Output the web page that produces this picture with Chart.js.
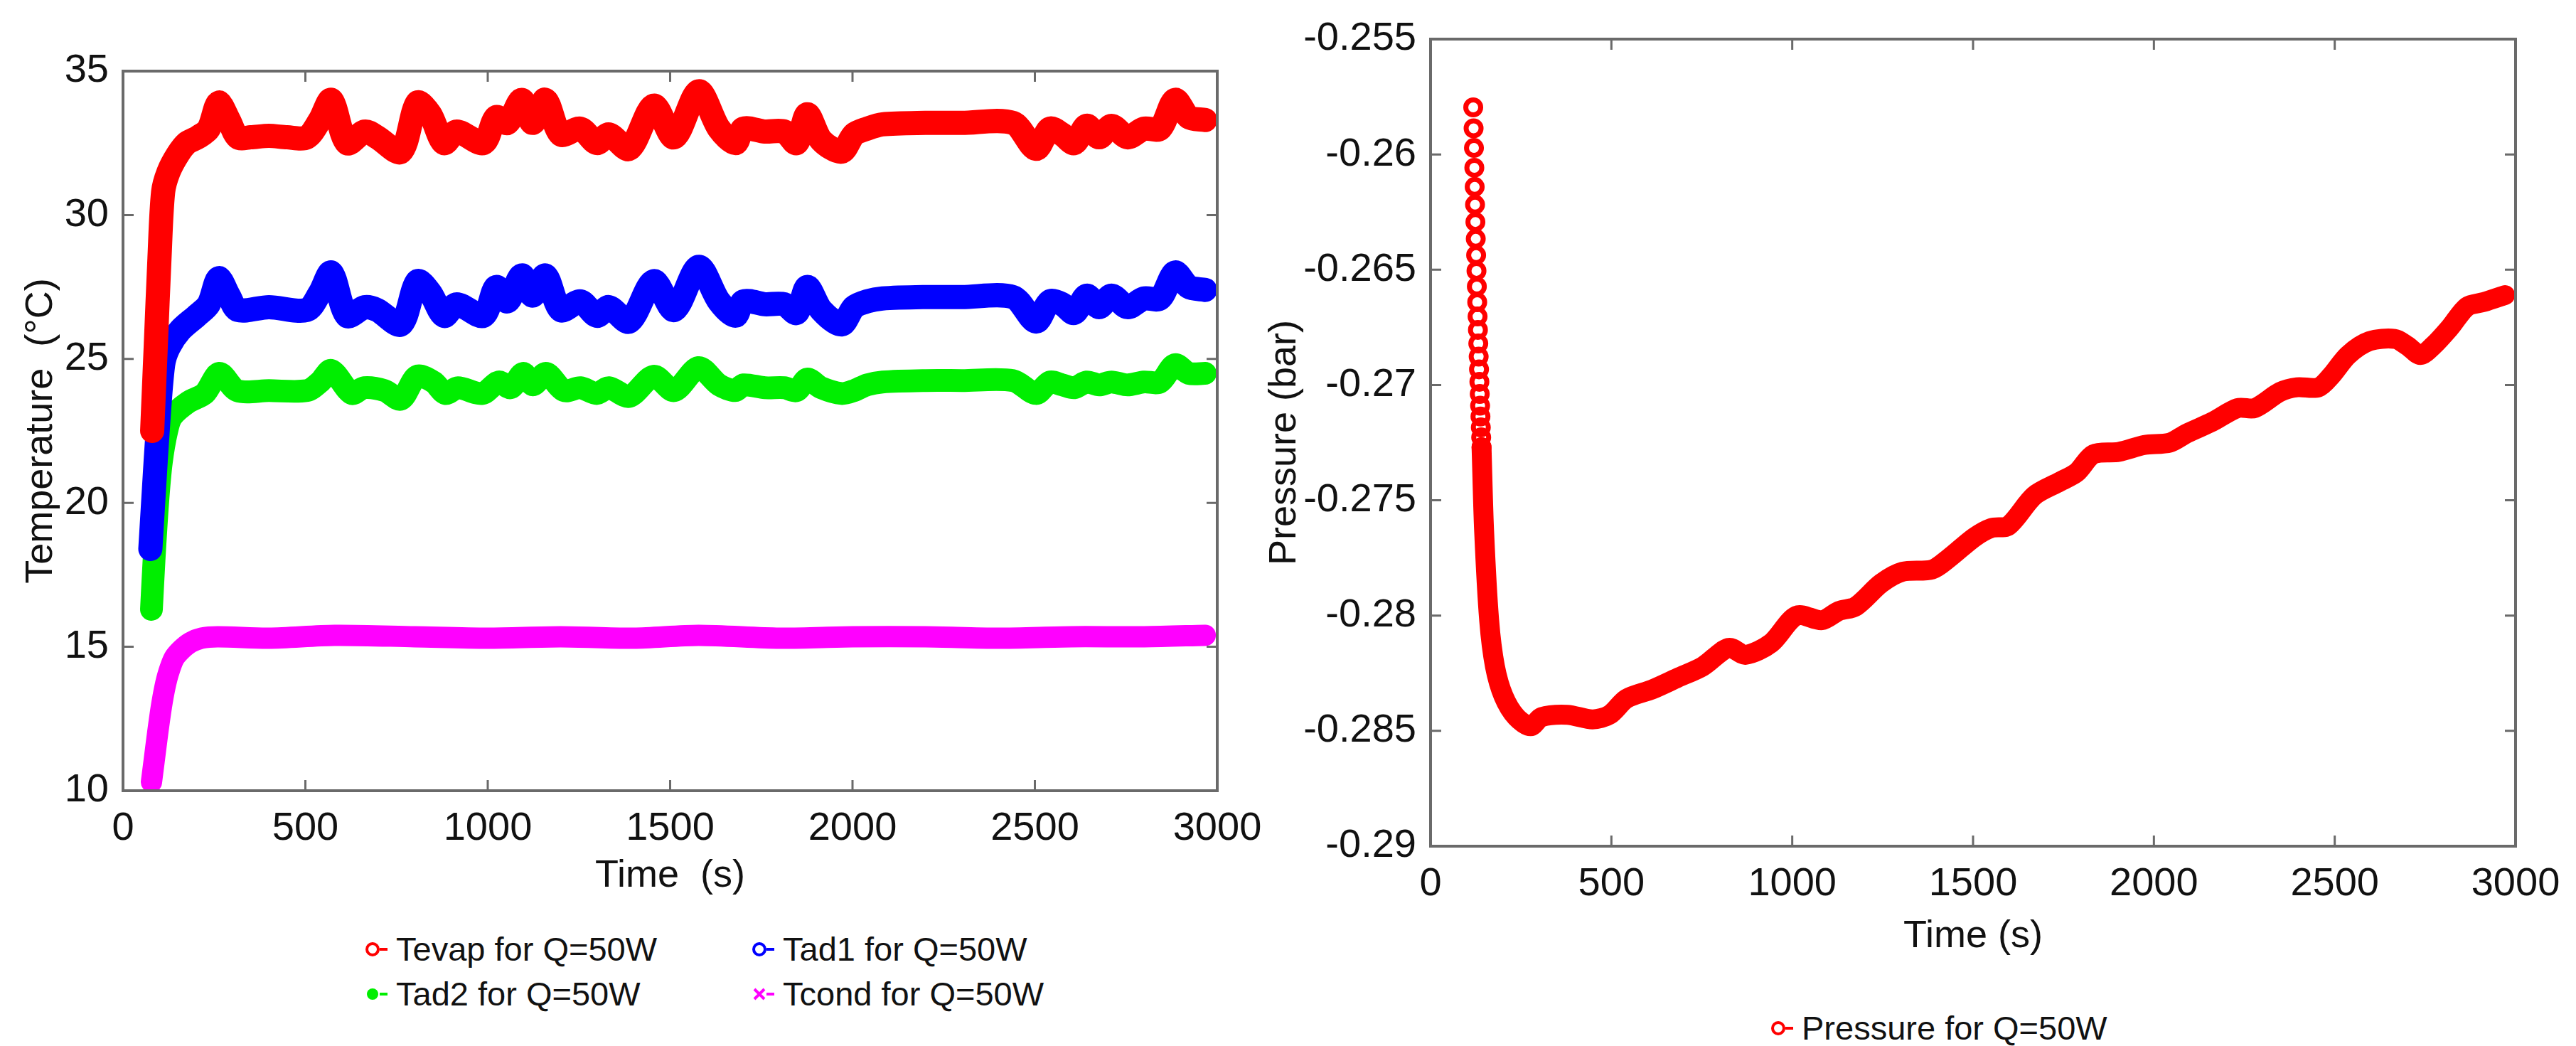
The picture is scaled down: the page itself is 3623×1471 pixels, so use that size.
<!DOCTYPE html>
<html>
<head>
<meta charset="utf-8">
<script src="https://cdn.jsdelivr.net/npm/chart.js@4.4.1/dist/chart.umd.min.js"></script>
<style>
    html, body { margin: 0; padding: 0; background: #fff; }
    body { width: 3623px; height: 1471px; position: relative; overflow: hidden; font-family: "Liberation Sans", Arial, sans-serif; }
    .panel { position: absolute; }
    .legend-item { position: absolute; display: flex; align-items: center; transform: translateY(-50%); font-size: 47px; line-height: 50px; color: #111; white-space: nowrap; }
    .legend-item svg { margin-right: 8px; }
</style>
</head>
<body>
<div class="panel" style="left:0;top:0;width:1800px;height:1300px;"><canvas id="tempChart"></canvas></div>
<div class="panel" style="left:1760px;top:0;width:1863px;height:1380px;"><canvas id="pressChart"></canvas></div>
<div id="tempLegend"></div>
<div id="pressLegend"></div>
<script>
// ---- data ----
const timeTicks = [0, 500, 1000, 1500, 2000, 2500, 3000];
const tempTicks = [10, 15, 20, 25, 30, 35];
const pressTicks = [-0.29, -0.285, -0.28, -0.275, -0.27, -0.265, -0.26, -0.255];

const tevapTime = [80, 90, 100, 110, 125, 150, 175, 205, 235, 262, 290, 315, 350, 400, 450, 504, 540, 571, 614, 663, 697, 762, 807, 842, 880, 915, 988, 1023, 1054, 1093, 1123, 1158, 1200, 1254, 1299, 1332, 1388, 1455, 1511, 1578, 1634, 1679, 1701, 1760, 1813, 1847, 1876, 1914, 1970, 2004, 2040, 2082, 2200, 2300, 2440, 2503, 2541, 2575, 2608, 2642, 2676, 2710, 2754, 2799, 2843, 2884, 2922, 2967];
const tevap = [22.5, 25.5, 28.5, 30.8, 31.5, 32.1, 32.5, 32.7, 33.0, 33.9, 33.3, 32.7, 32.7, 32.75, 32.7, 32.7, 33.3, 34.0, 32.5, 32.9, 32.7, 32.2, 33.9, 33.5, 32.5, 32.9, 32.5, 33.4, 33.2, 34.0, 33.2, 34.0, 32.8, 33.0, 32.5, 32.8, 32.3, 33.8, 32.7, 34.3, 33.0, 32.5, 33.0, 32.9, 32.9, 32.5, 33.5, 32.6, 32.2, 32.8, 33.0, 33.15, 33.2, 33.2, 33.2, 32.3, 33.0, 32.8, 32.5, 33.1, 32.7, 33.1, 32.7, 33.0, 33.0, 34.0, 33.4, 33.3];

const tad1Time = [75, 85, 95, 110, 125, 157, 202, 235, 262, 290, 315, 400, 504, 540, 571, 614, 663, 697, 762, 807, 842, 880, 915, 988, 1023, 1054, 1093, 1123, 1158, 1200, 1254, 1299, 1332, 1388, 1455, 1511, 1578, 1634, 1679, 1701, 1760, 1813, 1847, 1876, 1914, 1970, 2004, 2040, 2082, 2200, 2300, 2440, 2503, 2541, 2575, 2608, 2642, 2676, 2710, 2754, 2799, 2843, 2884, 2922, 2967];
const tad1 = [18.4, 20.5, 22.5, 24.8, 25.4, 26.0, 26.5, 26.9, 27.8, 27.2, 26.7, 26.8, 26.7, 27.3, 28.0, 26.5, 26.8, 26.7, 26.2, 27.7, 27.3, 26.5, 26.9, 26.5, 27.5, 27.0, 27.9, 27.2, 27.9, 26.7, 27.0, 26.5, 26.8, 26.3, 27.7, 26.7, 28.2, 27.0, 26.5, 27.0, 26.9, 26.9, 26.6, 27.5, 26.7, 26.2, 26.8, 27.0, 27.1, 27.15, 27.15, 27.15, 26.3, 27.0, 26.9, 26.6, 27.2, 26.8, 27.2, 26.8, 27.1, 27.1, 28.0, 27.5, 27.4];

const tad2Time = [78, 85, 95, 105, 120, 134, 179, 224, 264, 313, 400, 504, 540, 571, 627, 661, 717, 762, 806, 851, 884, 918, 985, 1030, 1063, 1097, 1124, 1160, 1209, 1254, 1299, 1332, 1388, 1455, 1511, 1578, 1634, 1679, 1701, 1760, 1813, 1847, 1876, 1914, 1970, 2004, 2040, 2082, 2200, 2300, 2440, 2503, 2541, 2575, 2608, 2642, 2676, 2710, 2754, 2799, 2843, 2884, 2922, 2967];
const tad2 = [16.3, 18.0, 20.0, 21.4, 22.5, 23.0, 23.5, 23.8, 24.5, 23.9, 23.9, 23.9, 24.2, 24.6, 23.8, 24.0, 23.9, 23.6, 24.4, 24.2, 23.8, 24.0, 23.8, 24.2, 24.0, 24.5, 24.1, 24.5, 23.9, 24.0, 23.8, 24.0, 23.7, 24.4, 23.9, 24.7, 24.1, 23.9, 24.1, 24.0, 24.0, 23.9, 24.3, 24.0, 23.8, 23.9, 24.1, 24.2, 24.25, 24.25, 24.25, 23.8, 24.2, 24.1, 24.0, 24.2, 24.1, 24.2, 24.1, 24.2, 24.2, 24.8, 24.5, 24.5];

const tcondTime = [78, 85, 95, 105, 115, 125, 140, 160, 185, 215, 260, 400, 580, 800, 1000, 1200, 1400, 1578, 1800, 2000, 2200, 2400, 2600, 2800, 2967];
const tcond = [10.3, 11.0, 12.0, 12.9, 13.6, 14.1, 14.6, 14.9, 15.15, 15.3, 15.35, 15.3, 15.4, 15.35, 15.3, 15.35, 15.3, 15.4, 15.3, 15.35, 15.35, 15.3, 15.35, 15.35, 15.4];

// first 24 samples are the separate open circles at the top of the drop
const pressTime = [118, 119, 120, 121, 122, 123, 124, 125, 126, 127, 128, 129, 130, 131, 132, 133, 134, 135, 136, 137, 138, 139, 140, 141, 148, 162, 178, 202, 237, 277, 307, 378, 448, 495, 542, 613, 683, 753, 824, 871, 941, 1012, 1082, 1129, 1176, 1246, 1305, 1387, 1434, 1504, 1551, 1598, 1669, 1739, 1786, 1833, 1903, 1974, 2044, 2091, 2161, 2232, 2279, 2349, 2396, 2455, 2490, 2537, 2596, 2666, 2701, 2737, 2772, 2819, 2866, 2913, 2971];
const pressure = [-0.25796, -0.25887, -0.25972, -0.26058, -0.26141, -0.26218, -0.26293, -0.26366, -0.26437, -0.26505, -0.26573, -0.26641, -0.26703, -0.26761, -0.2682, -0.26877, -0.26932, -0.26986, -0.27039, -0.2709, -0.27137, -0.27184, -0.27227, -0.2727, -0.2763, -0.2802, -0.2822, -0.2835, -0.2844, -0.2848, -0.2844, -0.2843, -0.2845, -0.2843, -0.2836, -0.2832, -0.2827, -0.2822, -0.2814, -0.2817, -0.2812, -0.28, -0.2802, -0.2798, -0.2796, -0.2786, -0.2781, -0.278, -0.2775, -0.2766, -0.2762, -0.2761, -0.2748, -0.2742, -0.2738, -0.273, -0.2729, -0.2726, -0.2725, -0.2721, -0.2716, -0.271, -0.271, -0.2703, -0.2701, -0.2701, -0.2696, -0.2687, -0.2681, -0.268, -0.2683, -0.2687, -0.2683, -0.2675, -0.2666, -0.2664, -0.2661];
const pressCircles = 24;

const tempLabels = ['Tevap for Q=50W', 'Tad1 for Q=50W', 'Tad2 for Q=50W', 'Tcond for Q=50W'];
const tempColors = ['#ff0000', '#0000ff', '#00ee00', '#ff00ff'];
const tempMarkers = ['open', 'open', 'dot', 'cross'];
const pressLabel = 'Pressure for Q=50W';

// ---- helpers ----
const FONT = '"Liberation Sans", Arial, sans-serif';
Chart.defaults.font.family = FONT;
Chart.defaults.color = '#111';

function pts(xs, ys) {
    return xs.map((x, i) => ({ x: x, y: ys[i] }));
}

// MATLAB-style box with inward ticks on all four sides
const boxPlugin = {
    id: 'box',
    afterDraw(chart) {
        const { ctx, chartArea: a, scales } = chart;
        ctx.save();
        ctx.strokeStyle = '#6a6a6a';
        ctx.lineWidth = 3;
        ctx.beginPath();
        scales.x.ticks.forEach(t => {
            const px = scales.x.getPixelForValue(t.value);
            ctx.moveTo(px, a.bottom); ctx.lineTo(px, a.bottom - 15);
            ctx.moveTo(px, a.top); ctx.lineTo(px, a.top + 15);
        });
        scales.y.ticks.forEach(t => {
            const py = scales.y.getPixelForValue(t.value);
            ctx.moveTo(a.left, py); ctx.lineTo(a.left + 15, py);
            ctx.moveTo(a.right, py); ctx.lineTo(a.right - 15, py);
        });
        ctx.stroke();
        ctx.lineWidth = 4;
        ctx.strokeRect(a.left, a.top, a.right - a.left, a.bottom - a.top);
        ctx.restore();
    }
};

function axis(min, max, tickValues, title, titlePad, yWidth, fmt) {
    return {
        type: 'linear',
        min: min,
        max: max,
        afterBuildTicks: (s) => { s.ticks = tickValues.map(v => ({ value: v })); },
        afterFit: yWidth ? (s) => { s.width = yWidth; } : (s) => { s.height = 180; },
        grid: { display: false, drawTicks: false },
        border: { display: false },
        ticks: {
            font: { size: 56 },
            color: '#111',
            padding: 20,
            autoSkip: false,
            maxRotation: 0,
            callback: fmt || ((v) => v)
        },
        title: {
            display: true,
            text: title,
            font: { size: 54 },
            color: '#111',
            padding: titlePad
        }
    };
}

function lineSet(label, data, color, width) {
    return {
        label: label,
        data: data,
        borderColor: color,
        backgroundColor: color,
        borderWidth: width,
        borderJoinStyle: 'round',
        borderCapStyle: 'round',
        tension: 0.3,
        pointRadius: 0,
        fill: false
    };
}

// ---- temperature chart ----
new Chart(document.getElementById('tempChart'), {
    type: 'line',
    data: {
        datasets: [
            lineSet(tempLabels[0], pts(tevapTime, tevap), tempColors[0], 34),
            lineSet(tempLabels[1], pts(tad1Time, tad1), tempColors[1], 34),
            lineSet(tempLabels[2], pts(tad2Time, tad2), tempColors[2], 32),
            lineSet(tempLabels[3], pts(tcondTime, tcond), tempColors[3], 30)
        ]
    },
    options: {
        responsive: true,
        maintainAspectRatio: false,
        animation: false,
        devicePixelRatio: 1,
        layout: { padding: { left: 0, top: 100, right: 88, bottom: 8 } },
        plugins: { legend: { display: false }, tooltip: { enabled: false } },
        scales: {
            x: axis(0, 3000, timeTicks, 'Time  (s)', { top: 0, bottom: 27 }),
            y: axis(10, 35, tempTicks, 'Temperature  (°C)', { top: 26, bottom: 0 }, 173)
        }
    },
    plugins: [boxPlugin]
});

// ---- pressure chart ----
const pressSet = lineSet(pressLabel, pts(pressTime, pressure), '#ff0000', 28);
pressSet.pointRadius = (c) => c.dataIndex < pressCircles ? 10.5 : 0;
pressSet.pointBorderWidth = 7;
pressSet.pointBackgroundColor = 'rgba(255,255,255,0)';
pressSet.pointBorderColor = '#ff0000';
pressSet.segment = {
    borderColor: (c) => c.p1DataIndex < pressCircles ? 'rgba(0,0,0,0)' : '#ff0000'
};

new Chart(document.getElementById('pressChart'), {
    type: 'line',
    data: { datasets: [pressSet] },
    options: {
        responsive: true,
        maintainAspectRatio: false,
        animation: false,
        devicePixelRatio: 1,
        layout: { padding: { left: 0, top: 55, right: 85, bottom: 10 } },
        plugins: { legend: { display: false }, tooltip: { enabled: false } },
        scales: {
            x: axis(0, 3000, timeTicks, 'Time (s)', { top: 0, bottom: 20 }),
            y: axis(-0.29, -0.255, pressTicks, 'Pressure (bar)', { top: 15, bottom: 0 }, 252,
                (v) => String(Number(v.toFixed(3))))
        }
    },
    plugins: [boxPlugin]
});

// ---- legends (MATLAB style marker with a short dash) ----
function markerSvg(kind, color) {
    let shape = '';
    if (kind === 'open') shape = `<circle cx="11" cy="15" r="8" fill="none" stroke="${color}" stroke-width="4"/>`;
    if (kind === 'dot') shape = `<circle cx="11" cy="15" r="8" fill="${color}"/>`;
    if (kind === 'cross') shape = `<path d="M4 8 L18 22 M18 8 L4 22" stroke="${color}" stroke-width="4"/>`;
    return `<svg width="36" height="30" viewBox="0 0 36 30">${shape}<line x1="21" y1="15" x2="32" y2="15" stroke="${color}" stroke-width="4"/></svg>`;
}

const tempLegendPos = [[513, 1335], [1057, 1335], [513, 1398], [1057, 1398]];
document.getElementById('tempLegend').innerHTML = tempLabels.map((lbl, i) =>
    `<div class="legend-item" style="left:${tempLegendPos[i][0]}px;top:${tempLegendPos[i][1]}px;">${markerSvg(tempMarkers[i], tempColors[i])}<span>${lbl}</span></div>`
).join('');
document.getElementById('pressLegend').innerHTML =
    `<div class="legend-item" style="left:2490px;top:1446px;">${markerSvg('open', '#ff0000')}<span>${pressLabel}</span></div>`;
</script>
</body>
</html>
